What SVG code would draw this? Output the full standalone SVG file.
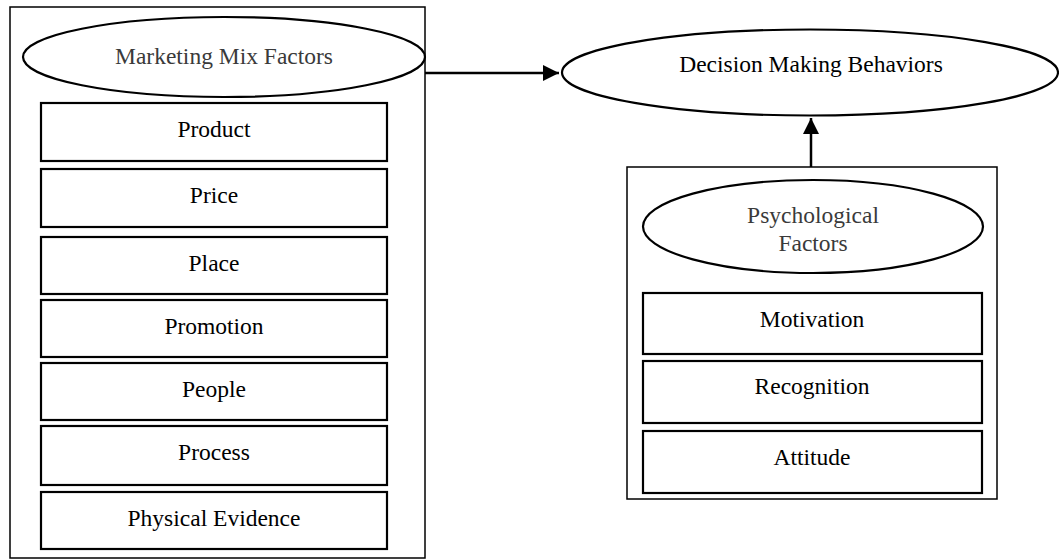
<svg xmlns="http://www.w3.org/2000/svg" width="1059" height="560" viewBox="0 0 1059 560">
  <style>
    .frame { fill: #ffffff; stroke: #000000; stroke-width: 1.5; }
    .item { fill: #ffffff; stroke: #000000; stroke-width: 2.2; }
    .oval { fill: #ffffff; stroke: #000000; stroke-width: 2.2; }
    .label { font-family: "Liberation Serif", "Times New Roman", serif; font-size: 23.5px; fill: #000000; text-anchor: middle; }
    .head { fill: #3a3a3a; }
    .link { fill: none; stroke: #000000; stroke-width: 2.5; }
  </style>
  <defs>
    <marker id="arrow" markerUnits="userSpaceOnUse" markerWidth="18" markerHeight="18" refX="16" refY="8" orient="auto">
      <path d="M0,0 L16,8 L0,16 Z" fill="#000000"/>
    </marker>
  </defs>

  <rect width="1059" height="560" fill="#ffffff"/>

  <!-- Marketing mix group -->
  <g id="marketing-mix">
    <rect class="frame" x="10" y="7" width="415" height="551"/>
    <ellipse class="oval" cx="224" cy="57" rx="201" ry="40"/>
    <text class="label head" x="224" y="64">Marketing Mix Factors</text>
  </g>
  <g id="product">
    <rect class="item" x="41" y="103" width="346" height="58"/>
    <text class="label" x="214" y="137">Product</text>
  </g>
  <g id="price">
    <rect class="item" x="41" y="169" width="346" height="58"/>
    <text class="label" x="214" y="203">Price</text>
  </g>
  <g id="place">
    <rect class="item" x="41" y="237" width="346" height="57"/>
    <text class="label" x="214" y="271">Place</text>
  </g>
  <g id="promotion">
    <rect class="item" x="41" y="300" width="346" height="57"/>
    <text class="label" x="214" y="334">Promotion</text>
  </g>
  <g id="people">
    <rect class="item" x="41" y="363" width="346" height="57"/>
    <text class="label" x="214" y="397">People</text>
  </g>
  <g id="process">
    <rect class="item" x="41" y="426" width="346" height="59"/>
    <text class="label" x="214" y="460">Process</text>
  </g>
  <g id="physical-evidence">
    <rect class="item" x="41" y="492" width="346" height="57"/>
    <text class="label" x="214" y="526">Physical Evidence</text>
  </g>

  <!-- Outcome -->
  <g id="decision-making">
    <ellipse class="oval" cx="810" cy="72.5" rx="248" ry="43"/>
    <text class="label" x="811" y="72">Decision Making Behaviors</text>
  </g>

  <!-- Psychological group -->
  <g id="psychological">
    <rect class="frame" x="627" y="167" width="370" height="332"/>
    <ellipse class="oval" cx="813" cy="226.5" rx="170" ry="46.5"/>
    <text class="label head" x="813" y="223">Psychological</text>
    <text class="label head" x="813" y="251">Factors</text>
  </g>
  <g id="motivation">
    <rect class="item" x="643" y="293" width="339" height="61"/>
    <text class="label" x="812" y="327">Motivation</text>
  </g>
  <g id="recognition">
    <rect class="item" x="643" y="361" width="339" height="62"/>
    <text class="label" x="812" y="394">Recognition</text>
  </g>
  <g id="attitude">
    <rect class="item" x="643" y="431" width="339" height="62"/>
    <text class="label" x="812" y="465">Attitude</text>
  </g>

  <!-- Connectors -->
  <g id="connectors">
    <line class="link" x1="425" y1="73" x2="559" y2="73" marker-end="url(#arrow)"/>
    <line class="link" x1="811" y1="167" x2="811" y2="118" marker-end="url(#arrow)"/>
  </g>
</svg>
